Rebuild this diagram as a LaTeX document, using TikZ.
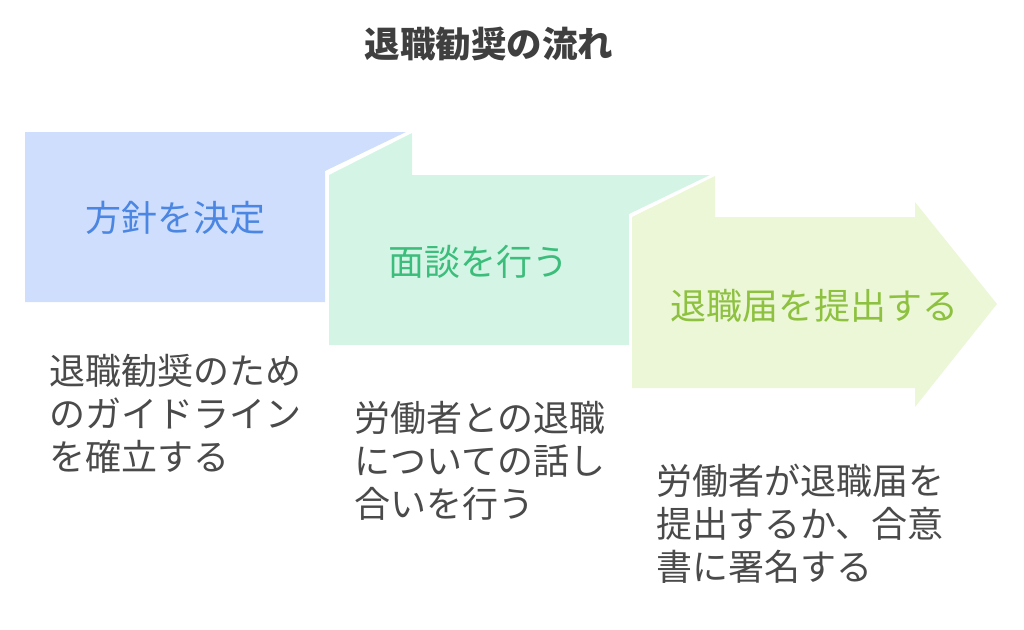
\documentclass[tikz,border=0pt]{standalone}
\usepackage{fontspec}
\newfontfamily\cjk{Noto Sans CJK JP}
\definecolor{bluefill}{HTML}{CFDEFC}
\definecolor{greenfill}{HTML}{D4F5E6}
\definecolor{yellowfill}{HTML}{ECF7D8}
\definecolor{bluetext}{HTML}{4A86E2}
\definecolor{greentext}{HTML}{3CBD7B}
\definecolor{yellowtext}{HTML}{8DC13F}
\definecolor{desctext}{HTML}{4A4A4A}
\definecolor{titletext}{HTML}{3F3F3F}
\tikzset{
  label/.style={inner sep=0pt, font=\cjk\fontsize{36}{42}\selectfont},
  desc/.style={inner sep=0pt, anchor=base west, align=left, text=desctext, font=\cjk\fontsize{36}{42.8}\selectfont},
}
\begin{document}
\begin{tikzpicture}[x=1pt,y=-1pt]
\useasboundingbox (0,0) rectangle (1024,629);
% shapes
\fill[bluefill] (25,132) -- (406,132) -- (325,171) -- (325,302) -- (25,302) -- cycle;
\fill[greenfill] (329,175) -- (333,173) -- (412,133) -- (412,175) -- (629,175) -- cycle;
\fill[greenfill] (329,175) -- (710,175) -- (629,214) -- (629,345) -- (329,345) -- cycle;
\fill[yellowfill] (632,217) -- (715,176) -- (715,217) -- cycle;
\fill[yellowfill] (632,217) -- (915,217) -- (915,202) -- (997,304) -- (915,407) -- (915,388) -- (632,388) -- cycle;
% title
\node[label, font=\cjk\bfseries\fontsize{35.5}{40}\selectfont, text=titletext] (title) at (489,44) {退職勧奨の流れ};
% labels
\node[label, text=bluetext] (l1) at (175,218) {方針を決定};
\node[label, text=greentext] (l2) at (478,262) {面談を行う};
\node[label, text=yellowtext] (l3) at (814,306) {退職届を提出する};
% descriptions (base = last line)
\node[desc] (d1) at (49,470) {退職勧奨のため\\のガイドライン\\を確立する};
\node[desc] (d2) at (354,517) {労働者との退職\\についての話し\\合いを行う};
\node[desc] (d3) at (656,580) {労働者が退職届を\\提出するか、合意\\書に署名する};
\end{tikzpicture}
\end{document}
